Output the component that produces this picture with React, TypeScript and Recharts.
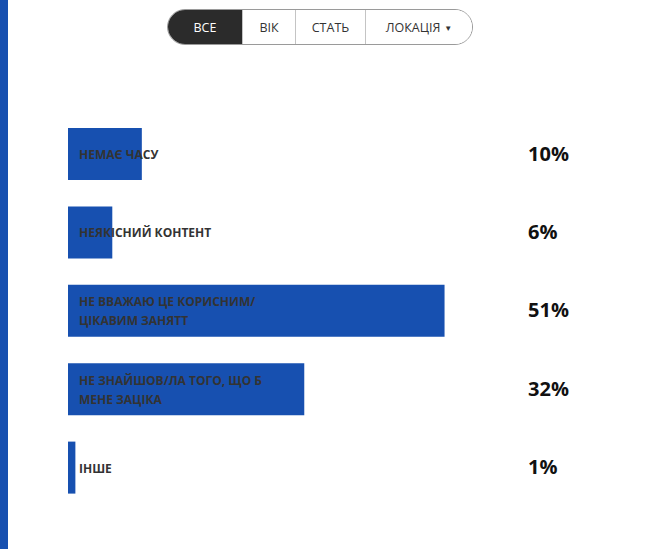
import React from 'react'
import { BarChart, Bar, XAxis, YAxis, LabelList } from 'recharts'

const categories = [
  'НЕМАЄ ЧАСУ',
  'НЕЯКІСНИЙ КОНТЕНТ',
  'НЕ ВВАЖАЮ ЦЕ КОРИСНИМ/\nЦІКАВИМ ЗАНЯТТ',
  'НЕ ЗНАЙШОВ/ЛА ТОГО, ЩО Б\nМЕНЕ ЗАЦІКА',
  'ІНШЕ',
]
const values = [10, 6, 51, 32, 1]
const tabs = ['ВСЕ', 'ВІК', 'СТАТЬ', 'ЛОКАЦІЯ']
const tabWidths = [74, 53, 70, 107]

const BLUE = '#1750b0'
const FONT = '"Open Sans", "Noto Sans", sans-serif'

const data = categories.map((name, i) => ({ name, value: values[i] }))

function NameLabel(props: any) {
  const { x, y, height, value } = props
  const lines = String(value).split('\n')
  const cy = y + height / 2
  const lh = 19
  const start = cy - ((lines.length - 1) * lh) / 2
  return (
    <text x={x + 11} fill="#333" fontSize={12} fontWeight={700} fontFamily={FONT} dominantBaseline="central">
      {lines.map((l, i) => (
        <tspan key={i} x={x + 11} y={start + i * lh}>{l}</tspan>
      ))}
    </text>
  )
}

function ValueLabel(props: any) {
  const { y, height, value } = props
  return (
    <text x={528} y={y + height / 2 - 1} fill="#111" fontSize={20} fontWeight={700} fontFamily={FONT} dominantBaseline="central">
      {value}%
    </text>
  )
}

function Tabs() {
  return (
    <div style={{
      position: 'absolute', left: 167, top: 9, height: 34, display: 'flex',
      border: '1px solid #9a9a9a', borderRadius: 18, overflow: 'hidden', fontFamily: FONT, fontSize: 12.5,
    }}>
      {tabs.map((t, i) => (
        <div key={t} style={{
          width: tabWidths[i], display: 'flex', alignItems: 'center', justifyContent: 'center',
          background: i === 0 ? '#2b2b2b' : '#fff', color: i === 0 ? '#fff' : '#333',
          borderLeft: i > 0 ? '1px solid #c4c4c4' : 'none', boxSizing: 'border-box',
        }}>
          {t}
          {i === tabs.length - 1 && <span style={{ fontSize: 8, marginLeft: 4 }}>▼</span>}
        </div>
      ))}
    </div>
  )
}

export default function App() {
  return (
    <div style={{ position: 'absolute', left: 0, top: 0, width: 666, height: 549, background: '#fff' }}>
      <div style={{ position: 'absolute', left: 0, top: 0, width: 8, height: 549, background: BLUE }} />
      <Tabs />
      <div style={{ position: 'absolute', left: 0, top: 0 }}>
        <BarChart
          width={666}
          height={549}
          data={data}
          layout="vertical"
          margin={{ top: 115, right: 155, bottom: 42, left: 68 }}
        >
          <XAxis type="number" domain={[0, 60]} hide />
          <YAxis type="category" dataKey="name" hide />
          <Bar dataKey="value" fill={BLUE} barSize={52} isAnimationActive={false}>
            <LabelList dataKey="name" content={<NameLabel />} />
            <LabelList dataKey="value" content={<ValueLabel />} />
          </Bar>
        </BarChart>
      </div>
    </div>
  )
}
